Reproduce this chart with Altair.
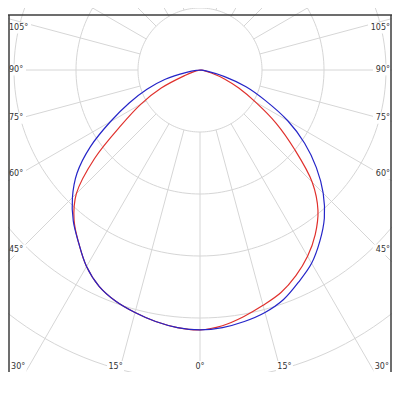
import math
import pandas as pd
import altair as alt

# Luminous intensity (cd) every 5 degrees from nadir
angles = [0, 5, 10, 15, 20, 25, 30, 35, 40, 45, 50, 55, 60, 65, 70, 75, 80, 85, 90]
blue_left = [419, 417, 412, 405, 397, 385, 366, 341, 318, 291, 259, 216, 167, 126, 91, 58, 22, 6, 0]
blue_right = [419, 417, 412, 405, 394, 377, 360, 337, 312, 281, 245, 206, 163, 116, 79, 41, 13, 3, 0]
red_left = [419, 417, 412, 405, 397, 385, 366, 341, 316, 282, 222, 155, 110, 69, 26, 10, 3, 0, 0]
red_right = [419, 414, 404, 393, 382, 366, 347, 324, 296, 256, 199, 150, 103, 69, 42, 19, 8, 3, 0]

ring_values = [100, 200, 300, 400, 500, 600]
spoke_angles = list(range(0, 360, 15))
side_label_angles = [105, 90, 75, 60, 45]
bottom_label_angles = [30, 15, 0]

# geometry (page pixels)
PX = 0.62          # pixels per cd
CX, CY = 200, 70   # pole of the diagram
X0, X1 = 8, 392
Y0, Y1 = 8, 372

GRID = "#d6d6d6"
TEXT = "#333333"
FRAME = "#3c3c3c"


def pt(r_cd, theta, side):
    t = math.radians(theta)
    r = r_cd * PX
    return CX + side * r * math.sin(t), CY + r * math.cos(t)


# curves
def curve(left, right, name):
    rows = []
    k = 0
    for a, v in zip(reversed(angles), reversed(left)):
        x, y = pt(v, a, -1)
        rows.append({"series": name, "o": k, "x": x, "y": y})
        k += 1
    for a, v in zip(angles[1:], right[1:]):
        x, y = pt(v, a, 1)
        rows.append({"series": name, "o": k, "x": x, "y": y})
        k += 1
    return pd.DataFrame(rows)


red_df = curve(red_left, red_right, "red")
blue_df = curve(blue_left, blue_right, "blue")

# rings
ring_rows = []
for rv in ring_values:
    for i in range(0, 361, 2):
        x, y = pt(rv, i, 1)
        ring_rows.append({"ring": rv, "o": i, "x": x, "y": y})
ring_df = pd.DataFrame(ring_rows)

# spokes
spoke_rows = []
for a in spoke_angles:
    x1, y1 = pt(ring_values[0], a, 1)
    x2, y2 = pt(1000, a, 1)
    spoke_rows.append({"x": x1, "y": y1, "x2": x2, "y2": y2})
spoke_df = pd.DataFrame(spoke_rows)

# labels
lab_rows = []
for a in side_label_angles:
    y = CY + 180 / math.tan(math.radians(a)) if a != 90 else CY
    y = max(y, 28)
    txt = f"{a}°"
    w = len(txt) * 5 + 2
    lab_rows.append({"t": txt, "x": X0 + 1, "y": y, "align": "left",
                     "bx": X0 + 1, "bx2": X0 + 1 + w, "by": y - 5.5, "by2": y + 5.5})
    lab_rows.append({"t": txt, "x": 390, "y": y, "align": "right",
                     "bx": 390 - w, "bx2": 390, "by": y - 5.5, "by2": y + 5.5})
for a in bottom_label_angles:
    for s in ([-1, 1] if a else [1]):
        x = CX + s * 315 * math.tan(math.radians(a))
        txt = f"{a}°"
        w = len(txt) * 5 + 2
        lab_rows.append({"t": txt, "x": x, "y": 366.5, "align": "center",
                         "bx": x - w / 2, "bx2": x + w / 2, "by": 361, "by2": 376})
lab_df = pd.DataFrame(lab_rows)

frame_df = pd.DataFrame([
    {"x": X0, "x2": X1, "y": 15, "y2": 15},
    {"x": X0 + 1, "x2": X0 + 1, "y": 15, "y2": Y1},
    {"x": X1 - 1, "x2": X1 - 1, "y": 15, "y2": Y1},
])

xs = alt.Scale(domain=[X0, X1], nice=False, zero=False)
ys = alt.Scale(domain=[Y0, Y1], nice=False, zero=False, reverse=True)
X = lambda f="x": alt.X(f"{f}:Q", scale=xs, axis=None)
Y = lambda f="y": alt.Y(f"{f}:Q", scale=ys, axis=None)

rings = alt.Chart(ring_df).mark_line(stroke=GRID, strokeWidth=1, clip=True).encode(
    x=X(), y=Y(), detail="ring:N", order="o:Q")
spokes = alt.Chart(spoke_df).mark_rule(stroke=GRID, strokeWidth=1, clip=True).encode(
    x=X(), y=Y(), x2="x2:Q", y2="y2:Q")
boxes = alt.Chart(lab_df).mark_rect(fill="white", clip=True).encode(
    x=X("bx"), x2="bx2:Q", y=Y("by"), y2="by2:Q")
texts_l = alt.Chart(lab_df).transform_filter("datum.align == 'left'").mark_text(
    align="left", baseline="middle", font="DejaVu Sans", fontSize=8, color=TEXT, clip=True
).encode(x=X(), y=Y(), text="t:N")
texts_r = alt.Chart(lab_df).transform_filter("datum.align == 'right'").mark_text(
    align="right", baseline="middle", font="DejaVu Sans", fontSize=8, color=TEXT, clip=True
).encode(x=X(), y=Y(), text="t:N")
texts_c = alt.Chart(lab_df).transform_filter("datum.align == 'center'").mark_text(
    align="center", baseline="middle", font="DejaVu Sans", fontSize=8, color=TEXT, clip=True
).encode(x=X(), y=Y(), text="t:N")
red = alt.Chart(red_df).mark_line(stroke="#e0302c", strokeWidth=1.2, clip=True,
                                  interpolate="catmull-rom").encode(
    x=X(), y=Y(), order="o:Q")
blue = alt.Chart(blue_df).mark_line(stroke="#2525c8", strokeWidth=1.2, clip=True,
                                    interpolate="catmull-rom").encode(
    x=X(), y=Y(), order="o:Q")
frame = alt.Chart(frame_df).mark_rule(stroke=FRAME, strokeWidth=1.5, clip=True).encode(
    x=X(), y=Y(), x2="x2:Q", y2="y2:Q")

chart = alt.layer(rings, spokes, boxes, texts_l, texts_r, texts_c, red, blue, frame).properties(
    width=X1 - X0, height=Y1 - Y0, padding=0, autosize=alt.AutoSizeParams(type="none")
).configure_view(stroke=None)

chart.save("out.html", embed_options={"renderer": "svg", "actions": False})
